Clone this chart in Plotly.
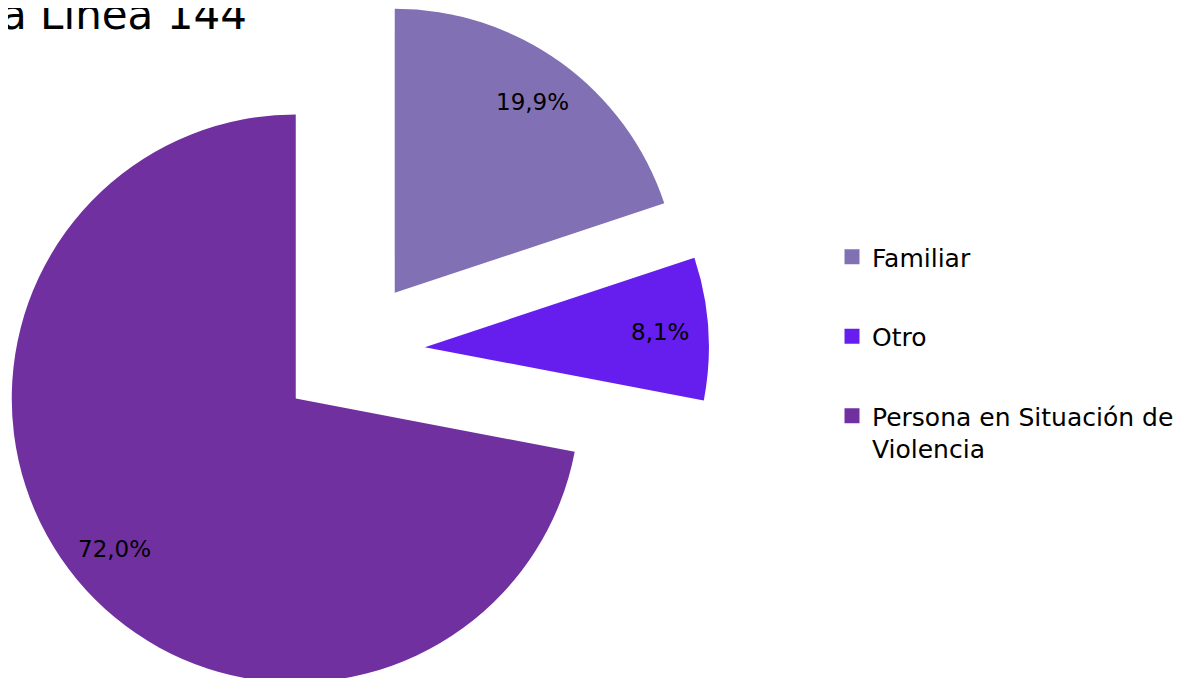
import math
import plotly.graph_objects as go

# ---------------- data ----------------
categories = ["Familiar", "Otro", "Persona en Situación de Violencia"]
values = [19.9, 8.1, 72.0]
colors = ["#8170B3", "#661EEE", "#7030A0"]
title_text = "a Línea 144"

# ---------------- layout / geometry (figure pixels) ----------------
W, H = 1185, 678
CX, CY = 344, 344        # centre of the (un-exploded) pie
R = 284                  # pie radius
EXPLODE = 73             # explosion distance of every slice
LABEL_R = 0.83           # label distance as fraction of radius
FONT = "DejaVu Sans"


def wrap(text, width=24):
    words, lines, cur = text.split(), [], ""
    for w in words:
        if cur and len(cur) + 1 + len(w) > width:
            lines.append(cur)
            cur = w
        else:
            cur = (cur + " " + w).strip()
    lines.append(cur)
    return "<br>".join(lines)


def fmt(v):
    return f"{v:.1f}%".replace(".", ",")


fig = go.Figure()
annotations = []
total = sum(values)
cum = 0.0
for i, (cat, v) in enumerate(zip(categories, values)):
    mid = (cum + v / 2) / total * 2 * math.pi
    cum += v
    cx = CX + EXPLODE * math.sin(mid)
    cy = CY - EXPLODE * math.cos(mid)
    cx = min(max(cx, R), W - R)
    cy = min(max(cy, R), H - R)
    slice_colors = [c if j == i else "rgba(0,0,0,0)" for j, c in enumerate(colors)]
    fig.add_trace(go.Pie(
        labels=categories, values=values, sort=False,
        direction="clockwise", rotation=0,
        marker=dict(colors=slice_colors, line=dict(width=0)),
        textinfo="none", hoverinfo="skip", showlegend=False,
        domain=dict(x=[(cx - R) / W, (cx + R) / W],
                    y=[1 - (cy + R) / H, 1 - (cy - R) / H]),
    ))
    lx = cx + LABEL_R * R * math.sin(mid)
    ly = cy - LABEL_R * R * math.cos(mid)
    annotations.append(dict(
        x=lx / W, y=1 - ly / H, xref="paper", yref="paper",
        text=fmt(v), showarrow=False,
        font=dict(family=FONT, size=23, color="#000000"),
        xanchor="center", yanchor="middle",
    ))

# legend entries
for cat, c in zip(categories, colors):
    fig.add_trace(go.Scatter(
        x=[None], y=[None], mode="markers", name=wrap(cat),
        legendgroup=cat,
        marker=dict(symbol="square", size=15, color=c, line=dict(width=0)),
    ))

annotations.append(dict(
    x=-9 / W, y=1 + 20 / H, xref="paper", yref="paper",
    text=title_text, showarrow=False,
    font=dict(family=FONT, size=42, color="#000000"),
    xanchor="left", yanchor="top",
))

fig.update_layout(
    width=W, height=H,
    margin=dict(l=0, r=0, t=0, b=0),
    paper_bgcolor="white", plot_bgcolor="white",
    xaxis=dict(visible=False), yaxis=dict(visible=False),
    showlegend=True,
    legend=dict(
        x=824 / W, y=1 - 226 / H, xanchor="left", yanchor="top",
        font=dict(family=FONT, size=25, color="#000000"),
        tracegroupgap=44, valign="top", itemsizing="trace",
        bgcolor="rgba(0,0,0,0)",
    ),
    annotations=annotations,
)

fig.write_html("out.html")
